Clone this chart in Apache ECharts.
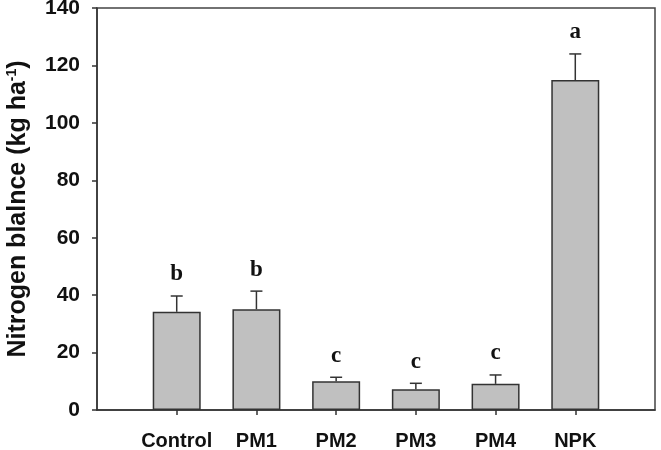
<!DOCTYPE html>
<html>
<head>
<meta charset="utf-8">
<script src="https://cdn.jsdelivr.net/npm/echarts@6/dist/echarts.min.js"></script>
<style>
  html, body { margin: 0; padding: 0; background: #fff; }
  #chart { width: 661px; height: 450px; }
</style>
</head>
<body>
<div id="chart"></div>
<script>
const categories = ['Control', 'PM1', 'PM2', 'PM3', 'PM4', 'NPK']
const means = [34.2, 35.1, 10.0, 7.2, 9.1, 114.9]
const errors = [5.5, 6.3, 1.4, 2.1, 3.1, 9.1]
const letters = ['b', 'b', 'c', 'c', 'c', 'a']
const yTicks = [0, 20, 40, 60, 80, 100, 120, 140]

// pad one empty slot on each side so the bars sit on the grid lines of a 7-step axis
const axisCats = ['', ...categories, '']
const barData = [null, ...means, null]
const errData = means.map((m, i) => [i + 1, m, errors[i], letters[i]])

const labelFont = 'Liberation Sans, Arial, sans-serif'

const chart = echarts.init(document.getElementById('chart'))

chart.setOption({
  animation: false,
  grid: {
    left: 97,
    right: 6,
    top: 8,
    bottom: 40,
    outerBoundsMode: 'none',
    show: true,
    borderColor: '#444',
    borderWidth: 1.5,
  },
  xAxis: {
    type: 'category',
    data: axisCats,
    boundaryGap: false,
    axisLine: { lineStyle: { color: '#333', width: 1.5 } },
    axisTick: {
      length: 5,
      inside: false,
      interval: (i, v) => v !== '',
      lineStyle: { color: '#333', width: 1.5 },
    },
    axisLabel: {
      interval: 0,
      margin: 21,
      color: '#111',
      fontSize: 20,
      fontWeight: 'bold',
      fontFamily: labelFont,
    },
    splitLine: { show: false },
  },
  yAxis: {
    type: 'value',
    min: yTicks[0],
    max: yTicks[yTicks.length - 1],
    interval: 20,
    axisLine: { show: true, lineStyle: { color: '#333', width: 1.5 } },
    axisTick: { show: true, length: 5, lineStyle: { color: '#333', width: 1.5 } },
    axisLabel: {
      margin: 17,
      color: '#111',
      fontSize: 21,
      fontWeight: 'bold',
      fontFamily: labelFont,
    },
    splitLine: { show: false },
    name: '{t|Nitrogen blalnce (kg ha}{s|-1}{t|)}',
    nameLocation: 'middle',
    nameGap: 66,
    nameRotate: 90,
    nameTextStyle: {
      rich: {
        t: { fontSize: 25, fontWeight: 'bold', color: '#111', fontFamily: labelFont },
        s: { fontSize: 14, fontWeight: 'bold', color: '#111', fontFamily: labelFont, padding: [0, 0, 12, 0] },
      },
    },
  },
  series: [
    {
      type: 'bar',
      data: barData,
      barWidth: 48,
      itemStyle: { color: '#c0c0c0', borderColor: '#333', borderWidth: 1.5 },
    },
    {
      type: 'custom',
      data: errData,
      z: 3,
      renderItem: (params, api) => {
        const x = api.value(0)
        const m = api.value(1)
        const e = api.value(2)
        const base = api.coord([x, m])
        const top = api.coord([x, m + e])
        const cap = 6
        return {
          type: 'group',
          children: [
            {
              type: 'line',
              shape: { x1: base[0], y1: base[1], x2: top[0], y2: top[1] },
              style: { stroke: '#333', lineWidth: 1.5 },
            },
            {
              type: 'line',
              shape: { x1: top[0] - cap, y1: top[1], x2: top[0] + cap, y2: top[1] },
              style: { stroke: '#333', lineWidth: 1.5 },
            },
            {
              type: 'text',
              x: top[0],
              y: top[1] - 10,
              style: {
                text: letters[params.dataIndex],
                fill: '#111',
                font: 'bold 23px "Liberation Serif", "Times New Roman", serif',
                align: 'center',
                verticalAlign: 'bottom',
              },
            },
          ],
        }
      },
    },
  ],
})
</script>
</body>
</html>
